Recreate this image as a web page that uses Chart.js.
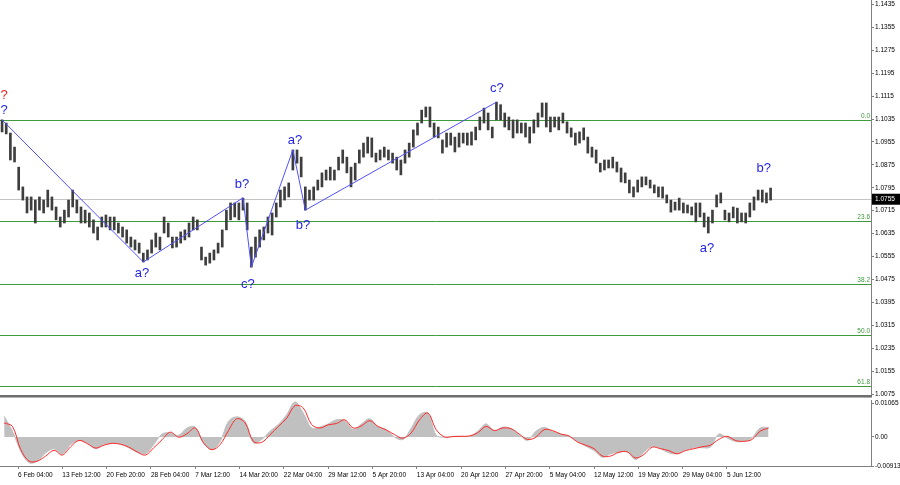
<!DOCTYPE html>
<html>
<head>
<meta charset="utf-8">
<script src="https://cdn.jsdelivr.net/npm/chart.js@4.4.0/dist/chart.umd.min.js"></script>
<style>
  body { margin: 0; background: #fff; }
  #wrap { position: relative; width: 900px; height: 485px; }
  canvas { position: absolute; left: 0; }
  #priceChart { top: 0; }
  #oscChart { top: 398px; }
</style>
</head>
<body>
<div id="wrap">
  <canvas id="priceChart" width="900" height="398"></canvas>
  <canvas id="oscChart" width="900" height="87"></canvas>
</div>
<script>
// price ranges, one entry per 12h (3 H4 bars)
var highs = [
  1.1032,1.1021,1.0986,1.0937,1.0867,1.0798,1.0763,1.0763,1.0752,1.0763,
  1.0752,1.0787,1.0763,1.0728,1.0693,1.0717,1.0752,1.0787,1.0752,1.0728,
  1.0717,1.0707,1.0683,1.0658,1.0693,1.0700,1.0693,1.0693,1.0672,1.0658,
  1.0648,1.0623,1.0613,1.0602,1.0567,1.0578,1.0613,1.0637,1.0623,1.0693,
  1.0672,1.0623,1.0623,1.0641,1.0648,1.0672,1.0693,1.0683,1.0588,1.0553,
  1.0567,1.0578,1.0602,1.0648,1.0717,1.0742,1.0742,1.0742,1.0759,1.0742,
  1.0588,1.0623,1.0648,1.0658,1.0693,1.0707,1.0742,1.0787,1.0798,1.0812,
  1.0927,1.0927,1.0902,1.0798,1.0787,1.0798,1.0822,1.0847,1.0857,1.0867,
  1.0857,1.0902,1.0927,1.0902,1.0867,1.0881,1.0927,1.0951,1.0972,1.0969,
  1.0916,1.0927,1.0937,1.0927,1.0916,1.0902,1.0892,1.0927,1.0951,1.0997,
  1.1021,1.1066,1.1077,1.1077,1.1021,1.1007,1.0962,1.0986,1.0986,1.0972,
  1.0986,1.0986,1.0986,1.0990,1.1007,1.1042,1.1073,1.1056,1.1007,1.1094,
  1.1085,1.1056,1.1042,1.1032,1.1032,1.1021,1.1021,1.1007,1.1032,1.1056,
  1.1091,1.1091,1.1042,1.1042,1.1042,1.1056,1.1025,1.1004,1.0986,1.0990,
  1.1004,1.0972,1.0937,1.0927,1.0881,1.0892,1.0892,1.0902,1.0885,1.0864,
  1.0847,1.0822,1.0798,1.0822,1.0833,1.0833,1.0822,1.0805,1.0798,1.0798,
  1.0770,1.0752,1.0745,1.0759,1.0742,1.0735,1.0728,1.0742,1.0742,1.0707,
  1.0693,1.0717,1.0770,1.0777,1.0717,1.0707,1.0728,1.0724,1.0707,1.0707,
  1.0742,1.0763,1.0787,1.0787,1.0777,1.0794
];
var lows = [
  1.0990,1.0983,1.0892,1.0885,1.0787,1.0752,1.0707,1.0717,1.0672,1.0717,
  1.0707,1.0728,1.0717,1.0683,1.0658,1.0672,1.0693,1.0728,1.0707,1.0672,
  1.0672,1.0658,1.0637,1.0613,1.0658,1.0658,1.0648,1.0648,1.0637,1.0623,
  1.0602,1.0588,1.0578,1.0567,1.0536,1.0543,1.0567,1.0588,1.0578,1.0637,
  1.0623,1.0585,1.0588,1.0602,1.0613,1.0623,1.0648,1.0648,1.0543,1.0525,
  1.0532,1.0543,1.0567,1.0588,1.0648,1.0683,1.0693,1.0683,1.0717,1.0648,
  1.0518,1.0553,1.0588,1.0613,1.0637,1.0630,1.0693,1.0728,1.0752,1.0763,
  1.0857,1.0881,1.0833,1.0717,1.0752,1.0752,1.0787,1.0798,1.0822,1.0822,
  1.0822,1.0857,1.0881,1.0847,1.0798,1.0822,1.0881,1.0902,1.0916,1.0902,
  1.0885,1.0892,1.0902,1.0892,1.0881,1.0857,1.0840,1.0881,1.0902,1.0937,
  1.0979,1.1021,1.1042,1.1007,1.0972,1.0969,1.0916,1.0937,1.0944,1.0920,
  1.0937,1.0951,1.0944,1.0944,1.0962,1.0997,1.1021,1.0997,1.0969,1.1032,
  1.1032,1.1007,1.0997,1.0969,1.0986,1.0986,1.0972,1.0951,1.0986,1.1007,
  1.1042,1.1007,1.0990,1.1007,1.0997,1.1021,1.0986,1.0972,1.0944,1.0951,
  1.0962,1.0916,1.0902,1.0881,1.0850,1.0857,1.0864,1.0864,1.0850,1.0815,
  1.0812,1.0777,1.0763,1.0780,1.0798,1.0805,1.0794,1.0777,1.0763,1.0759,
  1.0742,1.0710,1.0717,1.0717,1.0707,1.0707,1.0700,1.0676,1.0693,1.0658,
  1.0637,1.0672,1.0728,1.0742,1.0683,1.0676,1.0690,1.0672,1.0676,1.0672,
  1.0693,1.0717,1.0752,1.0745,1.0742,1.0752
];

// oscillator, one entry per 24h (6 H4 bars)
var histValues = [
  0.0065,0.0018,-0.0045,-0.0081,-0.0076,-0.0050,-0.0037,-0.0055,-0.0024,-0.0011,
  -0.0019,-0.0037,-0.0024,-0.0019,-0.0022,-0.0034,-0.0048,-0.0053,-0.0024,0.0009,
  0.0013,0.0005,0.0028,0.0031,-0.0019,-0.0040,-0.0014,0.0049,0.0063,0.0049,
  -0.0019,-0.0008,0.0018,0.0039,0.0070,0.0110,0.0075,0.0028,0.0031,0.0041,
  0.0054,0.0051,0.0023,0.0041,0.0057,0.0031,0.0023,-0.0001,-0.0008,0.0028,
  0.0070,0.0075,0.0005,-0.0001,0.0002,0.0002,0.0002,0.0018,0.0041,0.0020,
  0.0031,0.0026,0.0007,-0.0011,0.0018,0.0030,0.0018,0.0009,0.0002,-0.0014,
  -0.0029,-0.0043,-0.0064,-0.0053,-0.0048,-0.0047,-0.0071,-0.0047,-0.0029,-0.0037,
  -0.0050,-0.0053,-0.0041,-0.0034,-0.0034,-0.0032,0.0009,-0.0003,-0.0014,-0.0014,
  -0.0003,0.0028,0.0030
];
var signalValues = [
  0.0044,0.0033,-0.0040,-0.0076,-0.0076,-0.0060,-0.0042,-0.0057,-0.0031,-0.0011,
  -0.0021,-0.0035,-0.0026,-0.0020,-0.0023,-0.0032,-0.0047,-0.0057,-0.0034,-0.0009,
  0.0015,-0.0001,0.0010,0.0028,-0.0019,-0.0040,-0.0024,0.0020,0.0057,0.0044,
  -0.0014,-0.0017,0.0007,0.0033,0.0059,0.0098,0.0091,0.0039,0.0028,0.0038,
  0.0042,0.0054,0.0028,0.0035,0.0051,0.0033,0.0022,0.0007,-0.0004,0.0013,
  0.0054,0.0075,0.0023,0.0000,0.0001,0.0002,0.0003,0.0013,0.0033,0.0020,
  0.0028,0.0026,0.0009,-0.0008,-0.0001,0.0023,0.0020,0.0009,0.0003,-0.0016,
  -0.0026,-0.0037,-0.0060,-0.0060,-0.0048,-0.0047,-0.0066,-0.0055,-0.0032,-0.0037,
  -0.0043,-0.0053,-0.0043,-0.0037,-0.0031,-0.0026,-0.0008,0.0002,-0.0011,-0.0014,
  -0.0008,0.0018,0.0028
];

var priceTicks = [1.0075,1.0155,1.0235,1.0315,1.0395,1.0475,1.0555,1.0635,1.0715,
  1.0795,1.0875,1.0955,1.1035,1.1115,1.1195,1.1275,1.1355,1.1435];
var oscTicks = [-0.00913, 0, 0.01065];
var oscTickLabels = ['-0.00913', '0.00', '0.01065'];
var timeLabels = ['6 Feb 04:00','13 Feb 12:00','20 Feb 20:00','28 Feb 04:00','7 Mar 12:00',
  '14 Mar 20:00','22 Mar 04:00','29 Mar 12:00','5 Apr 20:00','13 Apr 04:00','20 Apr 12:00',
  '27 Apr 20:00','5 May 04:00','12 May 12:00','19 May 20:00','29 May 04:00','5 Jun 12:00'];
var timeTickBars = [13,45,77,109,141,173,205,237,269,301,333,365,397,429,461,493,525];

var fibLevels = [1.1033, 1.0678, 1.0458, 1.0281, 1.0103];
var fibNames = ['0.0', '23.6', '38.2', '50.0', '61.8'];
var lastPrice = 1.0755;

var waveBars = [1.5, 103.5, 175.5, 181.5, 211.5, 220.5, 358.5];
var wavePrices = [1.1032, 1.0536, 1.0760, 1.0518, 1.0927, 1.0717, 1.1094];
var labelTexts = ['?', '?', 'a?', 'b?', 'c?', 'a?', 'b?', 'c?', 'a?', 'b?'];
var labelBars = [2.9, 2.9, 102.5, 174.7, 179, 213, 218.8, 358.8, 510.5, 551.6];
var labelPrices = [1.1119, 1.1066, 1.0497, 1.0808, 1.0456, 1.0962, 1.0662, 1.1143, 1.0585, 1.0864];
var labelColors = ['#ee2020', '#2424e6', '#2424e6', '#2424e6', '#2424e6', '#2424e6',
  '#2424e6', '#2424e6', '#2424e6', '#2424e6'];

var FONT = 'Liberation Sans';
var AXIS = '#808080';
var FIB = '#3d9b3d';
var XMAX = 629;

Chart.defaults.font.family = FONT;
Chart.defaults.color = '#000';

function fixRightAxis(scale) {
  scale.width = 29;
  scale.paddingTop = 0;
  scale.paddingBottom = 0;
}

var overlays = {
  id: 'overlays',
  beforeDatasetsDraw: function (chart) {
    var ctx = chart.ctx, a = chart.chartArea, y = chart.scales.y;
    ctx.save();
    ctx.lineWidth = 1;
    ctx.strokeStyle = '#c4c4c4';
    var py = Math.round(y.getPixelForValue(lastPrice)) + 0.5;
    ctx.beginPath(); ctx.moveTo(a.left, py); ctx.lineTo(a.right, py); ctx.stroke();
    ctx.strokeStyle = FIB;
    fibLevels.forEach(function (v) {
      var fy = Math.round(y.getPixelForValue(v)) + 0.5;
      ctx.beginPath(); ctx.moveTo(a.left, fy); ctx.lineTo(a.right, fy); ctx.stroke();
    });
    ctx.restore();
  },
  afterDatasetsDraw: function (chart) {
    var ctx = chart.ctx, a = chart.chartArea, x = chart.scales.x, y = chart.scales.y;
    ctx.save();
    ctx.font = '13px "' + FONT + '"';
    ctx.textAlign = 'center';
    ctx.textBaseline = 'middle';
    labelTexts.forEach(function (t, i) {
      ctx.fillStyle = labelColors[i];
      ctx.fillText(t, x.getPixelForValue(labelBars[i]), y.getPixelForValue(labelPrices[i]));
    });
    ctx.font = '6.5px "' + FONT + '"';
    ctx.textAlign = 'right';
    ctx.textBaseline = 'bottom';
    ctx.fillStyle = FIB;
    fibLevels.forEach(function (v, i) {
      ctx.fillText(fibNames[i], a.right - 1, Math.round(y.getPixelForValue(v)) - 0.5);
    });
    var py = y.getPixelForValue(lastPrice);
    ctx.fillStyle = '#000';
    ctx.fillRect(a.right + 1, py - 5.5, 28, 11);
    ctx.fillStyle = '#fff';
    ctx.textAlign = 'left';
    ctx.textBaseline = 'middle';
    ctx.fillText(lastPrice.toFixed(4), a.right + 4, py);
    ctx.restore();
  },
  afterDraw: function (chart) {
    var ctx = chart.ctx, a = chart.chartArea;
    ctx.save();
    ctx.fillStyle = '#6e6e6e';
    ctx.fillRect(0, a.bottom, a.right + 1, 2);
    ctx.fillStyle = '#b0b0b0';
    ctx.fillRect(0, a.bottom + 2, a.right + 1, 1);
    ctx.restore();
  }
};

new Chart(document.getElementById('priceChart').getContext('2d'), {
  type: 'bar',
  data: {
    datasets: [{
      type: 'line',
      data: waveBars.map(function (b, i) { return { x: b, y: wavePrices[i] }; }),
      borderColor: '#5050ff',
      borderWidth: 1,
      pointRadius: 0,
      tension: 0,
      order: 0
    }, {
      data: highs.map(function (h, i) { return { x: 3 * i + 1.5, y: [lows[i], h] }; }),
      backgroundColor: '#3e3e3e',
      barThickness: 2,
      grouped: false,
      order: 1
    }]
  },
  options: {
    responsive: false,
    animation: false,
    events: [],
    layout: { padding: { left: 0, right: 0, top: 0, bottom: 3 } },
    plugins: { legend: { display: false }, tooltip: { enabled: false } },
    scales: {
      x: {
        type: 'linear', min: 0, max: XMAX, offset: false, display: false,
        grid: { offset: false }
      },
      y: {
        position: 'right', min: 1.00717, max: 1.14504, beginAtZero: false,
        afterBuildTicks: function (scale) {
          scale.ticks = priceTicks.map(function (v) { return { value: v }; });
        },
        afterFit: fixRightAxis,
        ticks: {
          font: { size: 6.5 }, padding: 1,
          callback: function (v) { return v.toFixed(4); }
        },
        grid: { drawOnChartArea: false, color: AXIS, tickLength: 3 },
        border: { color: AXIS }
      }
    }
  },
  plugins: [overlays]
});

new Chart(document.getElementById('oscChart').getContext('2d'), {
  type: 'line',
  data: {
    datasets: [{
      data: signalValues.map(function (v, j) { return { x: 6 * j + 3, y: v }; }),
      borderColor: '#ff2a2a',
      borderWidth: 1,
      pointRadius: 0,
      tension: 0.35,
      fill: false
    }, {
      data: histValues.map(function (v, j) { return { x: 6 * j + 3, y: v }; }),
      borderColor: '#c0c0c0',
      backgroundColor: '#c0c0c0',
      borderWidth: 1,
      pointRadius: 0,
      tension: 0.35,
      fill: 'origin'
    }]
  },
  options: {
    responsive: false,
    animation: false,
    events: [],
    layout: { padding: { left: 0, right: 0, top: 2, bottom: 0 } },
    plugins: { legend: { display: false }, tooltip: { enabled: false } },
    scales: {
      x: {
        type: 'linear', min: 0, max: XMAX,
        afterBuildTicks: function (scale) {
          scale.ticks = timeTickBars.map(function (v) { return { value: v }; });
        },
        afterFit: function (scale) {
          scale.height = 19;
          scale.paddingLeft = 0;
          scale.paddingRight = 0;
        },
        ticks: {
          font: { size: 6.5 }, align: 'start', autoSkip: false, maxRotation: 0, padding: 2,
          callback: function (v, i) { return timeLabels[i]; }
        },
        grid: { drawOnChartArea: false, color: AXIS, tickLength: 3 },
        border: { color: AXIS }
      },
      y: {
        position: 'right', min: -0.00913, max: 0.0116,
        afterBuildTicks: function (scale) {
          scale.ticks = oscTicks.map(function (v) { return { value: v }; });
        },
        afterFit: fixRightAxis,
        ticks: {
          font: { size: 6.5 }, padding: 1,
          callback: function (v, i) { return oscTickLabels[i]; }
        },
        grid: { drawOnChartArea: false, color: AXIS, tickLength: 3 },
        border: { color: AXIS }
      }
    }
  }
});
</script>
</body>
</html>
